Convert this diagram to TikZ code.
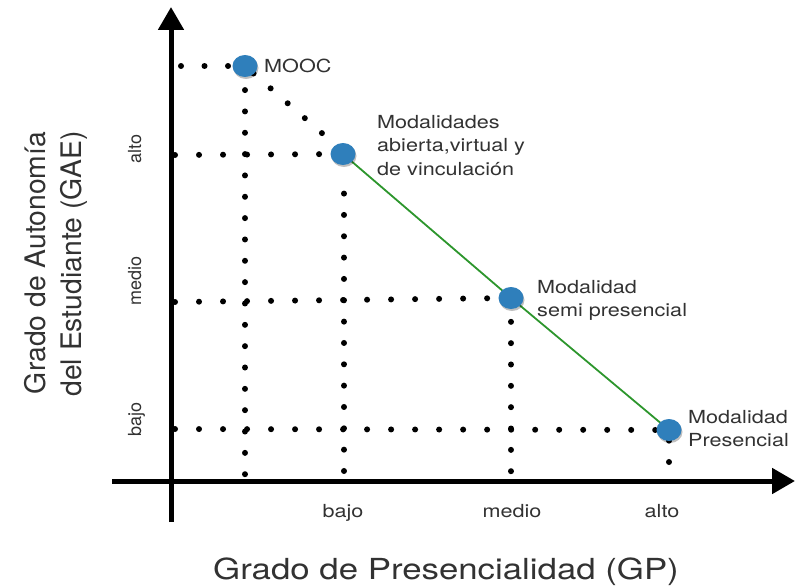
\documentclass[tikz,border=0pt]{standalone}
\usepackage{fontspec}
\setmainfont{TeX Gyre Heros}
\newfontfamily\widefont{TeX Gyre Heros}[FakeStretch=1.2]
\usetikzlibrary{arrows.meta,shapes.geometric,shadows}
\definecolor{dotblue}{RGB}{47,127,187}
\definecolor{lgreen}{RGB}{45,150,45}
\definecolor{txt}{RGB}{50,50,50}
\pgfdeclarelayer{bg}
\pgfsetlayers{bg,main}
\begin{document}
\begin{tikzpicture}[x=1pt,y=-1pt,
  axisline/.style={line width=5pt,-{Triangle[length=23pt,width=25pt]}},
  dotseq/.style={line width=6pt,line cap=round,dash pattern=on 0.01pt off #1},
  mode/.style={ellipse,fill=dotblue,minimum width=25pt,minimum height=22pt,inner sep=0pt,
    drop shadow={shadow xshift=1pt,shadow yshift=-2pt,opacity=0.25,fill=black}},
  lab/.style={text=txt,inner sep=0pt,align=left,font=\widefont\fontsize{18}{23.5}\selectfont},
  tick/.style={text=txt,inner sep=0pt,font=\widefont\fontsize{18}{22}\selectfont},
  ytick/.style={text=txt,inner sep=0pt,rotate=90,font=\fontsize{18}{22}\selectfont},
  ytitle/.style={text=txt,inner sep=0pt,rotate=90,font=\fontsize{28.3}{34}\selectfont},
  xtitle/.style={text=txt,inner sep=0pt,font=\widefont\fontsize{29}{34}\selectfont},
  modeline/.style={draw=lgreen,line width=1.8pt}]
\useasboundingbox (0,0) rectangle (802,586);

% axes
\coordinate (yb) at (171,522);
\coordinate (yt) at (171,7);
\coordinate (xl) at (112,481);
\coordinate (xr) at (795,481);
\draw[axisline] (yb) -- (yt);
\draw[axisline] (xl) -- (xr);

% modality points
\node[mode] (mooc) at (245,66) {};
\node[mode] (abierta) at (343,154) {};
\node[mode] (semi) at (511,298) {};
\node[mode] (pres) at (669,430) {};

% guide start points
\coordinate (rM) at (181,66);
\coordinate (rA) at (175,155);
\coordinate (rS) at (175,302);
\coordinate (rP) at (175,429);
\coordinate (cM) at (245,474.2);
\coordinate (cAb) at (344,471);
\coordinate (cAt) at (344,193.5);
\coordinate (cS) at (511,471.2);
\coordinate (cP) at (669,462);
\coordinate (dg) at (339,148);

\begin{pgfonlayer}{bg}
\draw[dotseq=23.5pt] (rM) -- (mooc.center);
\draw[dotseq=24pt] (rA) -- (abierta.center);
\draw[dotseq=24pt] (rS) -- (semi.center);
\draw[dotseq=24pt] (rP) -- (pres.center);
\draw[dotseq=21.33pt] (cM) -- (mooc.center);
\draw[dotseq=21.33pt] (cAb) -- (cAt);
\draw[dotseq=21.33pt] (cS) -- (semi.center);
\draw[dotseq=21.33pt] (cP) -- (pres.center);
\draw[dotseq=22.67pt] (dg) -- (mooc.center);
\draw[modeline] (abierta.center) -- (semi.center) -- (pres.center);
\end{pgfonlayer}

% labels
\node[lab,anchor=west] (lmooc) at (264,66) {MOOC};
\node[lab,anchor=north west] (labierta) at (377,115) {Modalidades\\abierta,virtual y\\de vinculación};
\node[lab,anchor=north west] (lsemi) at (537,280) {Modalidad\\semi presencial};
\node[lab,anchor=north west] (lpres) at (688,410) {Modalidad\\Presencial};

% tick labels
\node[tick,anchor=base] (xb) at (343,517) {bajo};
\node[tick,anchor=base] (xm) at (512,517) {medio};
\node[tick,anchor=base] (xa) at (662,517) {alto};
\node[ytick,anchor=base] (ya) at (141,149) {alto};
\node[ytick,anchor=base] (ym) at (141,281) {medio};
\node[ytick,anchor=base] (ybj) at (141,419) {bajo};

% titles
\node[ytitle,anchor=base] (yt1) at (45,263) {Grado de Autonomía};
\node[ytitle,anchor=base] (yt2) at (81,264) {del Estudiante (GAE)};
\node[xtitle,anchor=base] (xtl) at (446,579) {Grado de Presencialidad (GP)};
\end{tikzpicture}
\end{document}
